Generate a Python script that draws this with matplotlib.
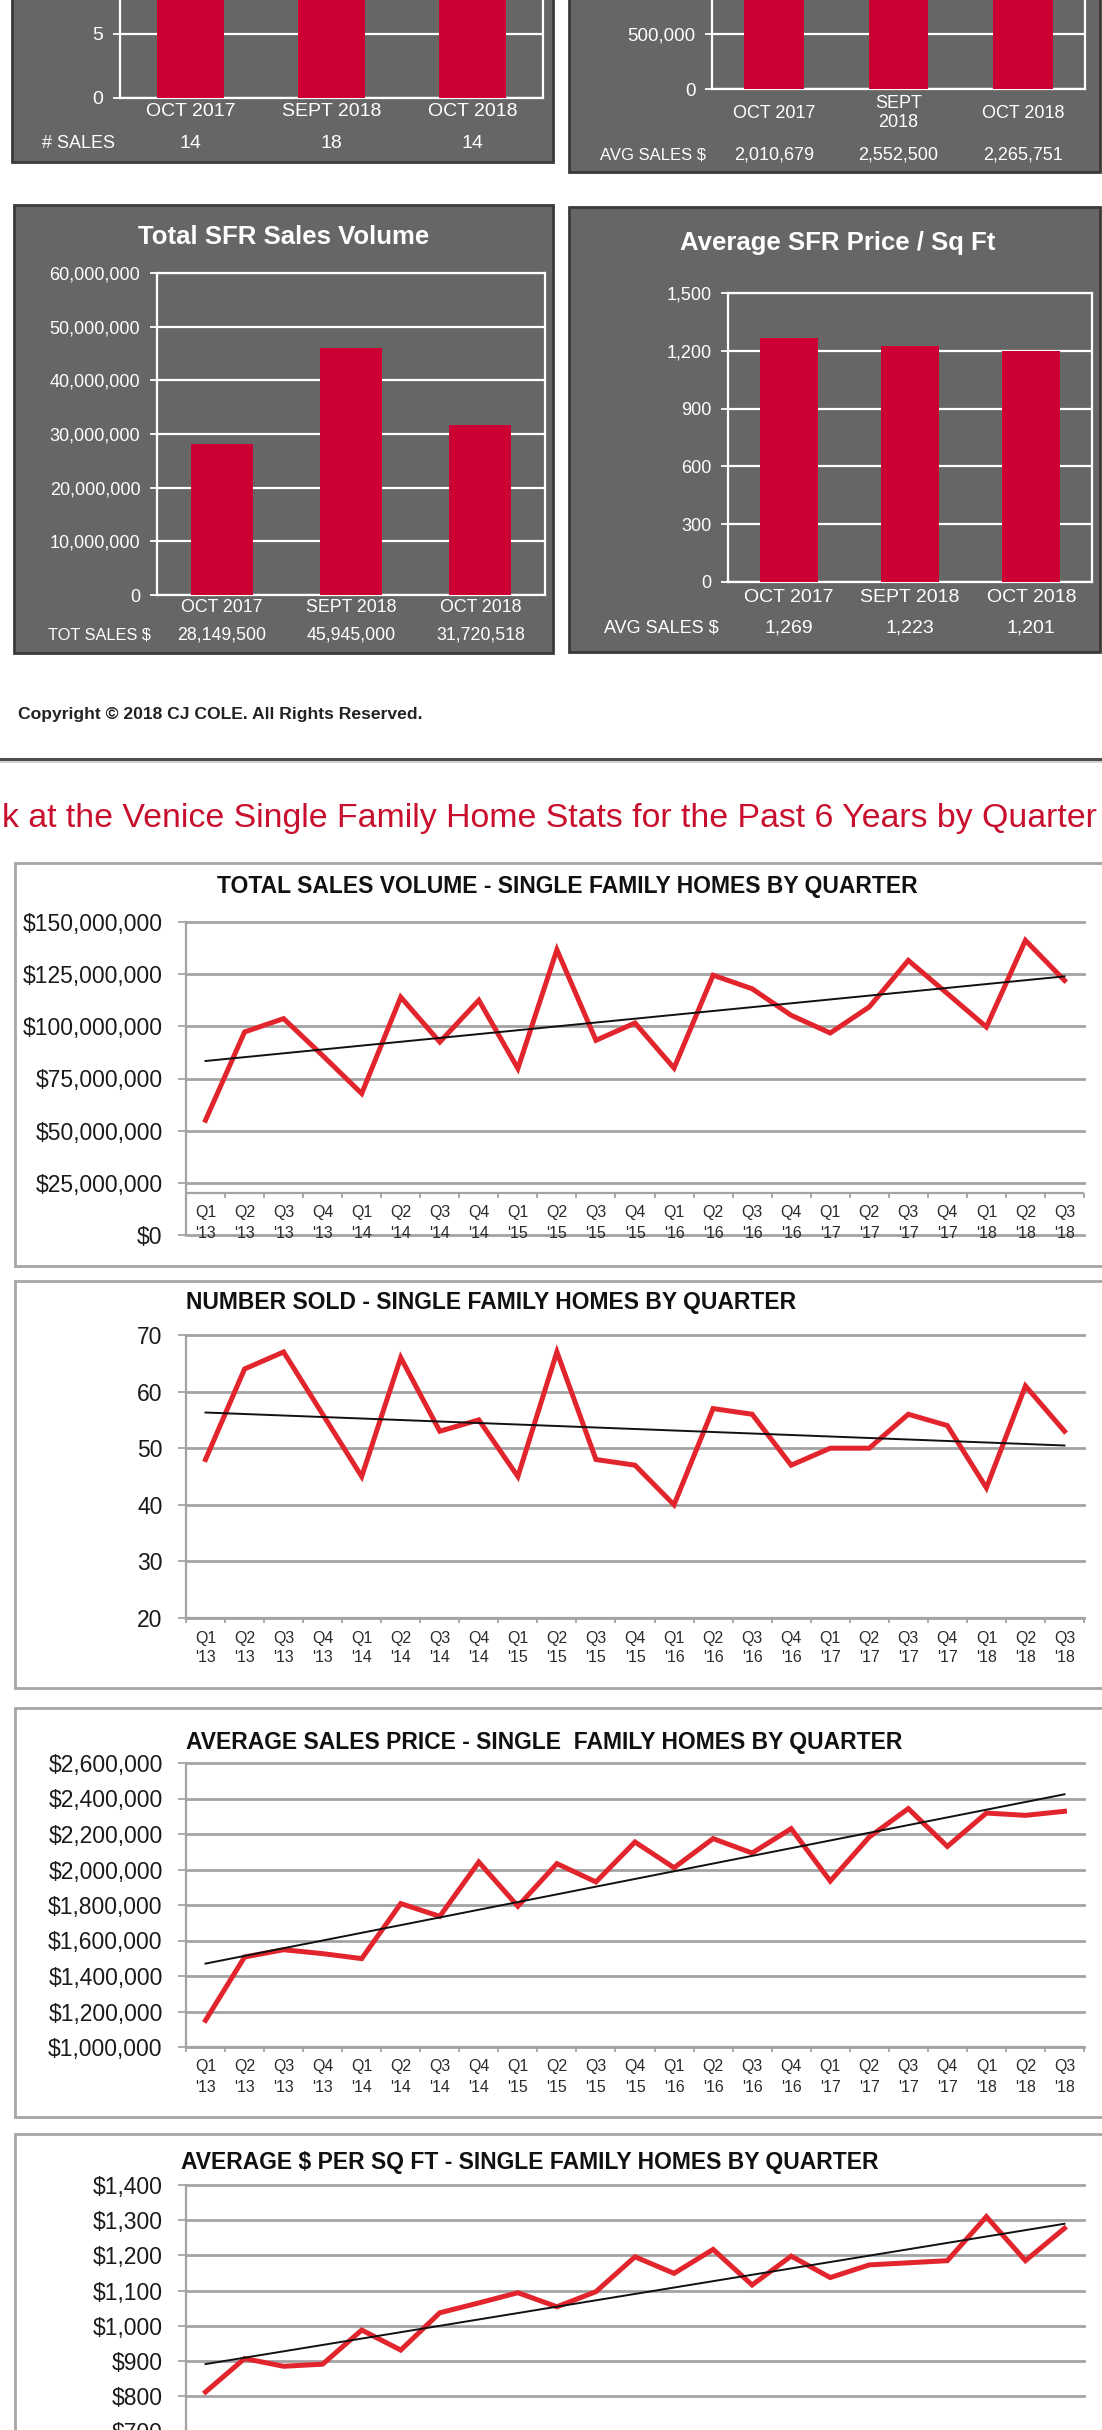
import numpy as np
import matplotlib.pyplot as plt
from matplotlib.patches import Rectangle
from matplotlib.transforms import blended_transform_factory

plt.rcParams['font.family'] = ['Liberation Sans', 'DejaVu Sans']

# month snapshot (top bar panels)
months = ['OCT 2017', 'SEPT 2018', 'OCT 2018']
months_wrapped = ['OCT 2017', 'SEPT\n2018', 'OCT 2018']
num_sales = [14, 18, 14]
avg_sales = [2010679, 2552500, 2265751]
tot_sales = [28149500, 45945000, 31720518]
avg_ppsf = [1269, 1223, 1201]

# quarterly history (line panels)
quarters = ["Q1 '13", "Q2 '13", "Q3 '13", "Q4 '13", "Q1 '14", "Q2 '14", "Q3 '14", "Q4 '14",
            "Q1 '15", "Q2 '15", "Q3 '15", "Q4 '15", "Q1 '16", "Q2 '16", "Q3 '16", "Q4 '16",
            "Q1 '17", "Q2 '17", "Q3 '17", "Q4 '17", "Q1 '18", "Q2 '18", "Q3 '18"]
total_volume_m = [55, 97.3, 103.7, 86, 67.8, 114, 92.5, 112.5, 79.8, 136.7, 93.3, 101.6,
                  80, 124.5, 118, 105.3, 96.8, 109.3, 131.6, 115.7, 99.7, 141.2, 122]
number_sold = [48, 64, 67, 56, 45, 66, 53, 55, 45, 67, 48, 47,
               40, 57, 56, 47, 50, 50, 56, 54, 43, 61, 53]
avg_price_m = [1.15, 1.507, 1.548, 1.526, 1.498, 1.808, 1.736, 2.042, 1.793, 2.033, 1.93, 2.155,
               2.01, 2.174, 2.093, 2.23, 1.935, 2.183, 2.343, 2.13, 2.318, 2.305, 2.328]
avg_sqft = [812, 907, 885, 891, 988, 931, 1037, 1065, 1094, 1054, 1097, 1196,
            1149, 1217, 1116, 1198, 1137, 1173, 1179, 1185, 1310, 1185, 1277]

W, H = 1102, 2430
BAR_RED = '#cc0033'
LINE_RED = '#e2252d'
BOX_GRAY = '#666666'
GRID_GRAY = '#a3a3a3'

fig = plt.figure(figsize=(W / 100, H / 100), dpi=100)
bg = fig.add_axes([0, 0, 1, 1], zorder=0)
bg.set_xlim(0, W)
bg.set_ylim(H, 0)
bg.axis('off')


def add_ax(left, top, right, bottom):
    # axes placed in page pixels (y from the top)
    return fig.add_axes([left / W, 1 - bottom / H, (right - left) / W, (bottom - top) / H], zorder=2)


def visible(ticks, lo, hi, top, bottom):
    # keep only the tick values whose row lands on the page
    px = bottom - (ticks - lo) / (hi - lo) * (bottom - top)
    return ticks[(px >= 0) & (px <= H + 8)]


def bar_panel(box, plot, values, labels, ymax, step, row_name, row_name_x, lab_y, row_y,
              fs, tick_fs, title=None, title_xy=None):
    bg.add_patch(Rectangle((box[0], box[1]), box[2] - box[0], box[3] - box[1],
                           facecolor=BOX_GRAY, edgecolor='#3a3a3a', lw=2))
    if title:
        bg.text(title_xy[0], title_xy[1], title, color='white', fontsize=18.5,
                fontweight='bold', ha='center', va='center')
    ax = add_ax(*plot)
    ax.set_facecolor('none')
    x = np.arange(len(values))
    ax.bar(x, values, width=0.48, color=BAR_RED, zorder=3)
    yt = np.arange(0, ymax + step / 2, step)
    for v in yt:
        ax.axhline(v, color='white', lw=1.6, zorder=1)
    ax.set_xlim(-0.5, len(values) - 0.5)
    ax.set_ylim(0, ymax)
    shown = visible(yt, 0, ymax, plot[1], plot[3])
    ax.set_yticks(shown)
    ax.set_yticklabels([f'{int(v):,}' for v in shown])
    for s in ax.spines.values():
        s.set_color('white')
        s.set_linewidth(1.6)
    ax.tick_params(axis='y', colors='white', length=5, width=1.3, pad=7, labelsize=tick_fs)
    ax.set_xticks([])
    tr = blended_transform_factory(ax.transData, bg.transData)
    for i, (lab, v) in enumerate(zip(labels, values)):
        ax.text(i, lab_y, lab, transform=tr, color='white', fontsize=fs,
                ha='center', va='center', linespacing=1.15)
        ax.text(i, row_y, f'{v:,}', transform=tr, color='white', fontsize=fs,
                ha='center', va='center')
    bg.text(row_name_x, row_y, row_name, color='white', fontsize=fs - 1,
            ha='center', va='center')


def line_panel(box, plot, values, ylo, yhi, step, fmt, title, title_x, title_y, title_ha,
               q_y=None, yr_y=None, axis_val=None):
    bg.add_patch(Rectangle((box[0], box[1]), box[2] - box[0], box[3] - box[1],
                           facecolor='white', edgecolor='#a6a6a6', lw=2))
    bg.text(title_x, title_y, title, fontsize=16.5, fontweight='bold', color='#111111',
            ha=title_ha, va='center')
    left, top, right, bottom = plot
    ax = add_ax(*plot)
    ax.set_facecolor('none')
    x = np.arange(len(values))
    yt = np.arange(ylo, yhi + step / 2, step)
    for v in yt:
        ax.axhline(v, color=GRID_GRAY, lw=2, zorder=1, clip_on=False)
    ax.plot(x, values, color=LINE_RED, lw=3.6, zorder=3, solid_joinstyle='miter')
    coef = np.polyfit(x, values, 1)
    ends = x[[0, -1]]
    ax.plot(ends, np.polyval(coef, ends), color='#111111', lw=1.4, zorder=4)

    if axis_val is None:
        axis_px = bottom
        ax.spines['bottom'].set_color(GRID_GRAY)
        ax.spines['bottom'].set_linewidth(1.6)
    else:
        axis_px = bottom - (axis_val - ylo) / (yhi - ylo) * (bottom - top)
        ax.spines['bottom'].set_visible(False)
        ax.axhline(axis_val, color=GRID_GRAY, lw=1.6, zorder=1)
    ax.spines['left'].set_color(GRID_GRAY)
    ax.spines['left'].set_linewidth(1.6)
    ax.spines['top'].set_visible(False)
    ax.spines['right'].set_visible(False)

    tr = blended_transform_factory(ax.transData, bg.transData)
    if q_y is not None:
        ax.vlines(np.arange(-0.5, len(values)), axis_px, axis_px + 5, transform=tr,
                  colors=GRID_GRAY, lw=1.3, clip_on=False)
        for i, q in enumerate(quarters):
            qq, yy = q.split()
            ax.text(i, q_y, qq, transform=tr, fontsize=11.5, color='#2a2a2a',
                    ha='center', va='center')
            ax.text(i, yr_y, yy, transform=tr, fontsize=11.5, color='#2a2a2a',
                    ha='center', va='center')

    ax.set_xlim(-0.5, len(values) - 0.5)
    ax.set_ylim(ylo, yhi)
    shown = visible(yt, ylo, yhi, top, bottom)
    ax.set_yticks(shown)
    ax.set_yticklabels([fmt(v) for v in shown])
    ax.set_xticks([])
    ax.tick_params(axis='y', colors=GRID_GRAY, labelcolor='#1a1a1a', length=5.8, width=1.3,
                   pad=11, labelsize=16.5)
    return ax


# ---- top bar panels ----
bar_panel((12, -20, 553, 162), (120, 98 - 20 * 12.8, 543, 98), num_sales, months,
          20, 5, '# SALES', 79, 112, 143, 14, 14)
bar_panel((569, -20, 1100, 172), (712, 89 - 6 * 55, 1085, 89), avg_sales, months_wrapped,
          3000000, 500000, 'AVG SALES $', 653, 113, 155, 13, 13.5)
bar_panel((14, 205, 553, 653), (157, 273, 545, 595), tot_sales, months,
          60000000, 10000000, 'TOT SALES $', 99, 608, 635, 12.8, 13,
          title='Total SFR Sales Volume', title_xy=(284, 237))
bar_panel((569, 207, 1100, 652), (728, 293, 1092, 582), avg_ppsf, months,
          1500, 300, 'AVG SALES $', 661, 597, 628, 14, 13,
          title='Average SFR Price / Sq Ft', title_xy=(838, 243))

bg.text(18, 715, 'Copyright © 2018 CJ COLE. All Rights Reserved.', fontsize=12.6,
        fontweight='bold', color='#222222', ha='left', va='center')
bg.plot([0, W], [759, 759], color='#4d4d4d', lw=2.2)
bg.plot([0, W], [762, 762], color='#c8c8c8', lw=1.2)
bg.text(2, 818, 'k at the Venice Single Family Home Stats for the Past 6 Years by Quarter',
        color='#c8102e', fontsize=24.4, ha='left', va='center')

# ---- quarterly line panels ----
line_panel((15, 863, 1110, 1266), (186, 922, 1084, 1235),
           np.array(total_volume_m) * 1e6, 0, 150e6, 25e6, lambda v: f'${v:,.0f}',
           'TOTAL SALES VOLUME - SINGLE FAMILY HOMES BY QUARTER', 567, 887, 'center',
           1212, 1233, axis_val=20e6)
line_panel((15, 1281, 1110, 1688), (186, 1335, 1084, 1618),
           np.array(number_sold), 20, 70, 10, lambda v: f'{v:.0f}',
           'NUMBER SOLD - SINGLE FAMILY HOMES BY QUARTER', 186, 1303, 'left',
           1638, 1658)
line_panel((15, 1708, 1110, 2117), (186, 1763, 1084, 2047),
           np.array(avg_price_m) * 1e6, 1.0e6, 2.6e6, 0.2e6, lambda v: f'${v:,.0f}',
           'AVERAGE SALES PRICE - SINGLE  FAMILY HOMES BY QUARTER', 186, 1742, 'left',
           2067, 2088)
# bottom panel runs off the page; its category labels fall below the crop
line_panel((15, 2134, 1110, 2520), (186, 2185, 1084, 2185 + 8 * 35.2),
           np.array(avg_sqft), 600, 1400, 100, lambda v: f'${v:,.0f}',
           'AVERAGE $ PER SQ FT - SINGLE FAMILY HOMES BY QUARTER', 181, 2162, 'left')

fig.savefig('out.png', dpi=100)
